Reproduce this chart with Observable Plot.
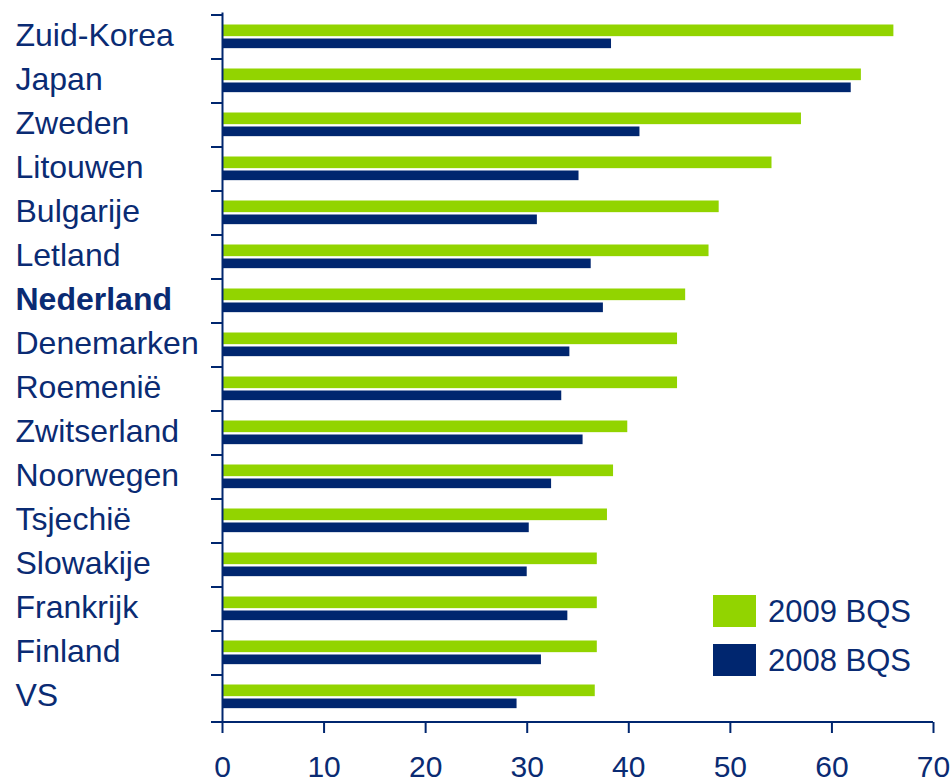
<!DOCTYPE html>
<html><head><meta charset="utf-8">
<script src="https://cdn.jsdelivr.net/npm/d3@7"></script>
<script src="https://cdn.jsdelivr.net/npm/@observablehq/plot@0.6"></script>
<style>body{margin:0;background:#fff}</style>
</head><body><div id="chart"></div>
<script>
const countries = ["Zuid-Korea","Japan","Zweden","Litouwen","Bulgarije","Letland","Nederland","Denemarken","Roemenië","Zwitserland","Noorwegen","Tsjechië","Slowakije","Frankrijk","Finland","VS"];
const v2009 = [66.1,62.9,57.0,54.1,48.9,47.9,45.6,44.8,44.8,39.9,38.5,37.9,36.9,36.9,36.9,36.7];
const v2008 = [38.3,61.9,41.1,35.1,31.0,36.3,37.5,34.2,33.4,35.5,32.4,30.2,30.0,34.0,31.4,29.0];
const xTicks = [0,10,20,30,40,50,60,70];
const highlight = "Nederland";
const seriesLabels = ["2009 BQS","2008 BQS"];
const colors = ["#92d400","#00266f"];
const textColor = "#0a2b73";

const rows = countries.map((c,i)=>({country:c, v2009:v2009[i], v2008:v2008[i]}));
const W=952, H=783, mt=12.5, mb=61, ml=222, mr=19;
const band = (H-mt-mb)/countries.length;
const font = "'Liberation Sans', Arial, sans-serif";

const chart = Plot.plot({
  width:W, height:H, marginTop:mt, marginBottom:mb, marginLeft:ml, marginRight:mr,
  style:{fontFamily:font, color:textColor, background:"#fff", overflow:"visible"},
  x:{domain:[0,70], label:null},
  y:{domain:countries, padding:0, label:null, axis:null},
  marks:[
    Plot.barX(rows,{y:"country", x:"v2009", fill:colors[0], insetTop:9.5, insetBottom:band-21.5}),
    Plot.barX(rows,{y:"country", x:"v2008", fill:colors[1], insetTop:23.5, insetBottom:band-33.5}),
    Plot.ruleX([0],{stroke:colors[1], strokeWidth:2}),
    Plot.axisX({ticks:xTicks, tickSize:11, tickPadding:22, fontSize:30, stroke:colors[1], strokeWidth:2, fill:textColor, label:null}),
    Plot.text(rows.filter(d=>d.country!==highlight),{y:"country", text:"country", frameAnchor:"left", dx:-207, dy:-2, textAnchor:"start", fontSize:32, fill:textColor}),
    Plot.text(rows.filter(d=>d.country===highlight),{y:"country", text:"country", frameAnchor:"left", dx:-207, dy:-2, textAnchor:"start", fontSize:32, fontWeight:"bold", fill:textColor})
  ]
});

const svg = d3.select(chart);
const ys = chart.scale("y");
const xs = chart.scale("x");
// category boundary ticks
countries.map(c=>ys.apply(c)).forEach(y=>{
  svg.append("line").attr("x1",ml-11).attr("x2",ml).attr("y1",y).attr("y2",y)
    .attr("stroke",colors[1]).attr("stroke-width",2);
});
// bottom axis line
const yb = H-mb;
svg.append("line").attr("x1",ml-11).attr("x2",xs.apply(70)).attr("y1",yb).attr("y2",yb)
  .attr("stroke",colors[1]).attr("stroke-width",2);

// legend
const lg = svg.append("g").attr("text-anchor","start");
seriesLabels.forEach((s,i)=>{
  const y0 = 595 + i*49;
  lg.append("rect").attr("x",713).attr("y",y0).attr("width",43).attr("height",32).attr("fill",colors[i]);
  lg.append("text").attr("x",768).attr("y",y0+16).attr("dy","0.36em")
    .attr("text-anchor","start")
    .attr("font-size",31).attr("fill",textColor)
    .attr("font-family",font).text(s);
});

document.getElementById("chart").appendChild(chart);
</script>
</body></html>
